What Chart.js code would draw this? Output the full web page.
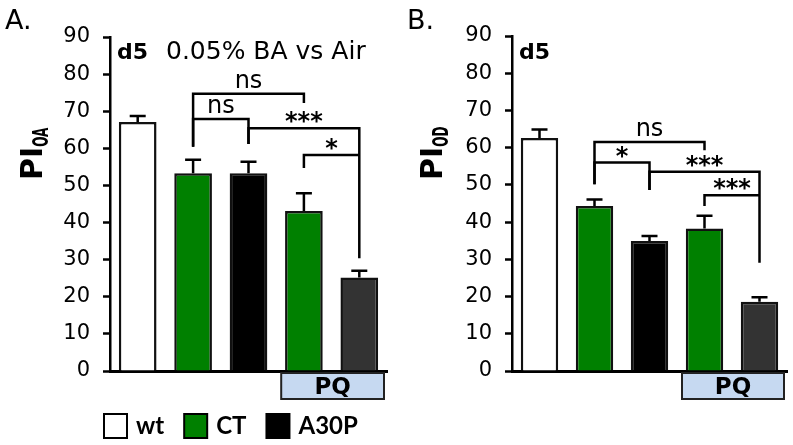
<!DOCTYPE html>
<html>
<head>
<meta charset="utf-8">
<script src="https://cdn.jsdelivr.net/npm/chart.js@4.4.1/dist/chart.umd.min.js"></script>
<style>
	html, body { margin: 0; padding: 0; background: #fff; }
	#wrap { position: relative; width: 793px; height: 445px; overflow: hidden; }
	#panelA { position: absolute; left: 0; top: 0; }
	#panelB { position: absolute; left: 400px; top: 0; }
</style>
</head>
<body>
<div id="wrap">
	<canvas id="panelA" width="400" height="445"></canvas>
	<canvas id="panelB" width="393" height="445"></canvas>
</div>
<script>
(function () {
	'use strict';

	// data
	var categories = ['wt', 'CT', 'A30P', 'CT PQ', 'A30P PQ'];
	var valuesOA = [67.1, 53.3, 53.3, 43.1, 25.2];
	var errorsOA = [1.6, 3.6, 3.1, 4.8, 1.8];
	var valuesOD = [62.6, 44.3, 34.9, 38.3, 18.6];
	var errorsOD = [2.3, 1.8, 1.4, 3.4, 1.2];
	var yMin = 0, yMax = 90, yStep = 10;

	// significance brackets: category indexes, bar height (y), leg ends (left / right)
	var bracketsOA = [
		{from: 1, to: 3, y: 74.7, left: 60.4, right: 72.2, label: 'ns'},
		{from: 1, to: 2, y: 67.9, left: 60.4, right: 61.2, label: 'ns'},
		{from: 2, to: 4, y: 65.4, left: 61.2, right: 30.4, label: '***'},
		{from: 3, to: 4, y: 58.2, left: 54.7, right: 58.2, label: '*'}
	];
	var bracketsOD = [
		{from: 1, to: 3, y: 61.5, left: 50.2, right: 59.3, label: 'ns'},
		{from: 1, to: 2, y: 56.0, left: 50.2, right: 48.6, label: '*'},
		{from: 2, to: 4, y: 53.5, left: 48.6, right: 29.1, label: '***'},
		{from: 3, to: 4, y: 47.2, left: 44.3, right: 47.2, label: '***'}
	];

	var pqFrom = 3;
	var pqLabel = 'PQ';
	var legendLabels = ['wt', 'CT', 'A30P'];

	// styles
	var barColors = ['#ffffff', '#008000', '#000000', '#008000', '#333333'];
	var legendColors = ['#ffffff', '#008000', '#000000'];
	var font = 'DejaVu Sans';

	var drawText = function (ctx, text, x, y, f, align) {
		ctx.font = f;
		ctx.textAlign = align || 'left';
		ctx.textBaseline = 'alphabetic';
		ctx.fillText(text, x, y);
		return ctx.measureText(text).width;
	};

	var makePanel = function (canvasId, cfg) {
		var overlay = {
			id: 'overlay',
			afterDatasetsDraw: function (chart) {
				var ctx = chart.ctx,
					xs = chart.scales.x,
					ys = chart.scales.y;

				ctx.save();
				ctx.strokeStyle = '#000';
				ctx.fillStyle = '#000';

				// error bars (upper only)
				ctx.lineWidth = 2.5;
				cfg.values.forEach(function (v, i) {
					var px = xs.getPixelForValue(i),
						base = ys.getPixelForValue(v),
						top = ys.getPixelForValue(v + cfg.errors[i]);
					ctx.beginPath();
					ctx.moveTo(px, base);
					ctx.lineTo(px, top);
					ctx.moveTo(px - 8, top);
					ctx.lineTo(px + 8, top);
					ctx.stroke();
				});

				// brackets
				ctx.lineWidth = 2.5;
				ctx.lineJoin = 'miter';
				cfg.brackets.forEach(function (b) {
					var x1 = xs.getPixelForValue(b.from),
						x2 = xs.getPixelForValue(b.to),
						yy = ys.getPixelForValue(b.y);
					ctx.beginPath();
					ctx.moveTo(x1, ys.getPixelForValue(b.left));
					ctx.lineTo(x1, yy);
					ctx.lineTo(x2, yy);
					ctx.lineTo(x2, ys.getPixelForValue(b.right));
					ctx.stroke();

					var isStar = b.label.charAt(0) === '*';
					ctx.font = isStar ? 'bold 24px "' + font + '"' : '24px "' + font + '"';
					var m = ctx.measureText(b.label),
						gap = isStar ? 5 : 6;
					ctx.textAlign = 'center';
					ctx.textBaseline = 'alphabetic';
					ctx.fillText(b.label, (x1 + x2) / 2, yy - gap - m.actualBoundingBoxDescent);
				});
				ctx.restore();
			},
			afterDraw: function (chart) {
				var ctx = chart.ctx,
					area = chart.chartArea,
					xs = chart.scales.x,
					catW = (area.right - area.left) / categories.length;

				ctx.save();
				ctx.fillStyle = '#000';

				// PQ box under the last two bars
				var bx = xs.getPixelForValue(pqFrom) - catW / 2 + 5,
					bw = area.right - 3 - bx,
					by = area.bottom + 2,
					bh = 26;
				ctx.fillStyle = '#c6d9f1';
				ctx.fillRect(bx, by, bw, bh);
				ctx.strokeStyle = '#222';
				ctx.lineWidth = 2;
				ctx.strokeRect(bx, by, bw, bh);
				ctx.fillStyle = '#000';
				drawText(ctx, pqLabel, bx + bw / 2, by + 21, 'bold 23px "' + font + '"', 'center');

				// panel letter and headings
				drawText(ctx, cfg.letter, cfg.letterX, 29, '27px "' + font + '"');
				drawText(ctx, 'd5', area.left + 7, 59, 'bold 22px "' + font + '"');
				if (cfg.subtitle) {
					drawText(ctx, cfg.subtitle, area.left + 56, 59, '25px "' + font + '"');
				}

				// y axis title PI with subscript
				ctx.save();
				ctx.translate(42, 180);
				ctx.rotate(-Math.PI / 2);
				var w = drawText(ctx, 'PI', 0, 0, 'bold 30px "' + font + '"');
				ctx.translate(w, 6);
				ctx.scale(0.55, 1);
				drawText(ctx, cfg.sub, 0, 0, 'bold 22px "' + font + '"');
				ctx.restore();

				// legend (only under panel A)
				if (cfg.legend) {
					var lx = area.left - 6;
					legendLabels.forEach(function (label, i) {
						ctx.fillStyle = legendColors[i];
						ctx.fillRect(lx, 414, 23, 24);
						ctx.strokeStyle = '#000';
						ctx.lineWidth = 2;
						ctx.strokeRect(lx, 414, 23, 24);
						ctx.fillStyle = '#000';
						var tw = drawText(ctx, label, lx + 32, 434, 'bold 24px Lato');
						lx += 32 + tw + 20;
					});
				}
				ctx.restore();
			}
		};

		return new Chart(document.getElementById(canvasId), {
			type: 'bar',
			data: {
				labels: categories,
				datasets: [{
					data: cfg.values,
					backgroundColor: barColors,
					borderColor: '#111',
					borderWidth: 2.5,
					borderSkipped: 'start',
					barPercentage: 0.68,
					categoryPercentage: 1
				}]
			},
			options: {
				responsive: false,
				animation: false,
				devicePixelRatio: 1,
				layout: {padding: {top: cfg.padTop, right: cfg.padRight, bottom: 0, left: 0}},
				plugins: {legend: {display: false}, tooltip: {enabled: false}},
				scales: {
					x: {
						grid: {display: false},
						border: {display: true, color: '#000', width: 3},
						ticks: {display: false},
						afterFit: function (s) { s.height = 74; }
					},
					y: {
						min: yMin,
						max: yMax,
						ticks: {
							stepSize: yStep,
							color: '#000',
							padding: 13,
							font: {family: font, size: 21}
						},
						grid: {drawOnChartArea: false, drawTicks: true, tickLength: 7, tickWidth: 2.5, tickColor: '#000'},
						border: {display: true, color: '#000', width: 2.5},
						afterFit: function (s) { s.width = cfg.axisX; }
					}
				}
			},
			plugins: [overlay]
		});
	};

	makePanel('panelA', {
		values: valuesOA, errors: errorsOA, brackets: bracketsOA,
		letter: 'A.', letterX: 5, sub: 'OA', subtitle: '0.05% BA vs Air', legend: true,
		axisX: 110, padTop: 37, padRight: 13
	});
	makePanel('panelB', {
		values: valuesOD, errors: errorsOD, brackets: bracketsOD,
		letter: 'B.', letterX: 7, sub: 'OD', subtitle: null, legend: false,
		axisX: 112, padTop: 36, padRight: 6
	});
})();
</script>
</body>
</html>
